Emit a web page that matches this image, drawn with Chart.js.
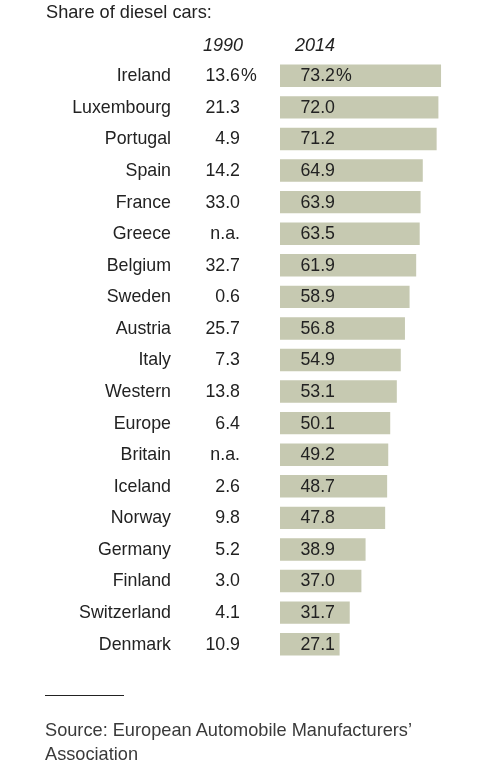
<!DOCTYPE html>
<html>
<head>
<meta charset="utf-8">
<script src="https://cdn.jsdelivr.net/npm/chart.js@4"></script>
<style>
  html, body { margin: 0; padding: 0; background: #fff; }
  body { width: 500px; height: 772px; position: relative; overflow: hidden; font-family: "Liberation Sans", Arial, sans-serif; color: #222; }
  #wrap { position: absolute; left: 0; top: 0; width: 500px; height: 772px; }
  .title { position: absolute; left: 46px; top: 1px; font-size: 18.2px; line-height: 22px; color: #222; white-space: nowrap; }
  .hdr { position: absolute; top: 34px; font-size: 18px; line-height: 22px; font-style: italic; color: #222; }
  .rule { position: absolute; left: 45px; top: 695px; width: 79px; height: 0; border-top: 1.5px solid #222; }
  .source { position: absolute; left: 45px; top: 718px; font-size: 18.2px; line-height: 24px; color: #3a3a3a; white-space: nowrap; }
</style>
</head>
<body>
<div id="wrap"><canvas id="c" width="500" height="772"></canvas></div>
<div class="title">Share of diesel cars:</div>
<div class="hdr" style="left:203px">1990</div>
<div class="hdr" style="left:295px">2014</div>
<div class="rule"></div>
<div class="source">Source: European Automobile Manufacturers’<br>Association</div>
<script>
const countries = ["Ireland","Luxembourg","Portugal","Spain","France","Greece","Belgium","Sweden","Austria","Italy","Western","Europe","Britain","Iceland","Norway","Germany","Finland","Switzerland","Denmark"];
const labels1990 = ["13.6","21.3","4.9","14.2","33.0","n.a.","32.7","0.6","25.7","7.3","13.8","6.4","n.a.","2.6","9.8","5.2","3.0","4.1","10.9"];
const values2014 = [73.2,72.0,71.2,64.9,63.9,63.5,61.9,58.9,56.8,54.9,53.1,50.1,49.2,48.7,47.8,38.9,37.0,31.7,27.1];
const labels2014 = ["73.2","72.0","71.2","64.9","63.9","63.5","61.9","58.9","56.8","54.9","53.1","50.1","49.2","48.7","47.8","38.9","37.0","31.7","27.1"];

const FONT = '17.8px "Liberation Sans", Arial, sans-serif';
const textPlugin = {
  id: 'tableText',
  afterDatasetsDraw(chart) {
    const ctx = chart.ctx;
    const x = chart.scales.x, y = chart.scales.y;
    const x0 = x.getPixelForValue(0);
    ctx.save();
    ctx.font = FONT;
    ctx.fillStyle = '#222';
    ctx.textBaseline = 'middle';
    countries.forEach((c, i) => {
      const yy = y.getPixelForValue(i) + 0.5;
      ctx.textAlign = 'right';
      ctx.fillText(c, 171, yy);
      ctx.fillText(labels1990[i], 240, yy);
      ctx.fillText(labels2014[i], x0 + 55, yy);
      if (i === 0) {
        ctx.textAlign = 'left';
        ctx.fillText('%', 241, yy);
        ctx.fillText('%', x0 + 56, yy);
      }
    });
    ctx.restore();
  }
};

new Chart(document.getElementById('c'), {
  type: 'bar',
  data: {
    labels: countries,
    datasets: [{
      data: values2014,
      backgroundColor: '#c6c9b1',
      borderWidth: 0,
      barPercentage: 0.71,
      categoryPercentage: 1
    }]
  },
  options: {
    indexAxis: 'y',
    responsive: false,
    animation: false,
    devicePixelRatio: 1,
    layout: { padding: { left: 280, right: 0, top: 60, bottom: 112 } },
    plugins: { legend: { display: false }, tooltip: { enabled: false } },
    scales: {
      x: { display: false, min: 0, max: 100 },
      y: { display: false, offset: true }
    }
  },
  plugins: [textPlugin]
});
</script>
</body>
</html>
